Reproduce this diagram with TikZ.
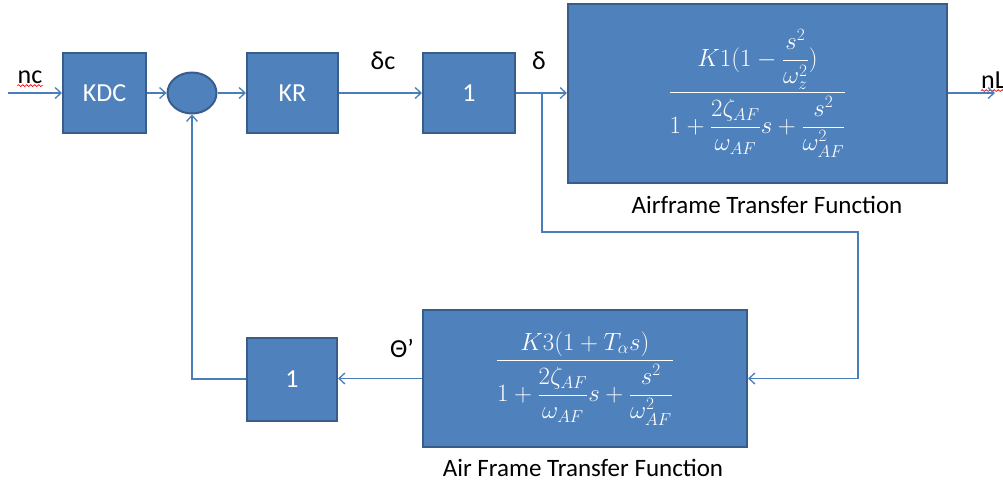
\documentclass[tikz,border=0pt]{standalone}
\usepackage{amsmath}
\usepackage{fontspec}
\setmainfont{Carlito}
\usetikzlibrary{arrows.meta,decorations.pathmorphing,shapes.geometric}
\definecolor{fillb}{HTML}{4F81BD}
\definecolor{edgeb}{HTML}{385D8A}
\definecolor{lineb}{HTML}{4A7EBB}
\begin{document}
\begin{tikzpicture}[x=1pt,y=-1pt,
 blk/.style={draw=edgeb, fill=fillb, line width=2pt, text=white, inner sep=0pt, font=\fontsize{26}{30}\selectfont},
 mathblk/.style={blk, font=\fontsize{25}{30}\selectfont},
 conn/.style={draw=lineb, line width=1.3pt, -{Straight Barb[length=6pt,width=11pt]}},
 lbl/.style={text=black, font=\fontsize{26}{30}\selectfont, inner sep=0pt},
 captxt/.style={text=black, font=\fontsize{25}{29}\selectfont, inner sep=0pt},
 squig/.style={draw=red, line width=0.7pt, decorate, decoration={snake,amplitude=0.9pt,segment length=4pt}}]
\useasboundingbox (0,0) rectangle (1003,483);
% blocks
\node[blk, minimum width=83pt, minimum height=80pt] (kdc) at (104.5,93) {KDC};
\node[draw=edgeb, fill=fillb, line width=2pt, ellipse, inner sep=0pt, minimum width=49pt, minimum height=41pt] (sum) at (192,93) {};
\node[blk, minimum width=91pt, minimum height=80pt] (kr) at (292.5,93) {KR};
\node[blk, minimum width=92pt, minimum height=80pt] (g1) at (469,93) {1};
\node[mathblk, minimum width=379pt, minimum height=179pt] (af) at (757.5,93.5)
  {$\dfrac{K1(1-\dfrac{s^2}{\omega_z^2})}{1+\dfrac{2\zeta_{AF}}{\omega_{AF}}s+\dfrac{s^2}{\omega_{AF}^2}}$};
\node[mathblk, minimum width=324pt, minimum height=137pt] (af2) at (585,378.5)
  {$\dfrac{K3(1+T_\alpha s)}{1+\dfrac{2\zeta_{AF}}{\omega_{AF}}s+\dfrac{s^2}{\omega_{AF}^2}}$};
\node[blk, minimum width=90pt, minimum height=83pt] (g2) at (292,379) {1};
% labels
\node[lbl] (nc) at (30,77) {nc};
\node[lbl] (dc) at (383,61) {δc};
\node[lbl] (d) at (539,61) {δ};
\node[lbl] (th) at (402,348) {Θ’};
\node[lbl, anchor=west] (nl) at (981,80) {nL};
\node[captxt] (cap1) at (767,205) {Airframe Transfer Function};
\node[captxt] (cap2) at (583,468) {Air Frame Transfer Function};
\draw[squig] ([yshift=-2pt]nc.south west) -- ([yshift=-2pt]nc.south east);
\draw[squig] ([yshift=-2pt]nl.south west) -- ([yshift=-2pt]nl.south east);
% coordinates
\coordinate (in) at (8,93);
\coordinate (br) at (542,93);
\coordinate (out) at (995,93);
\coordinate (c2) at (858,232);
% connectors
\draw[conn] (in) -- (kdc.west);
\draw[conn] (kdc.east) -- (sum.west);
\draw[conn] (sum.east) -- (kr.west);
\draw[conn] (kr.east) -- (g1.west);
\draw[conn] (g1.east) -- (af.west |- g1.east);
\draw[conn] (af.east |- out) -- (out);
\draw[conn] (br) |- (c2) |- (af2.east);
\draw[conn] (af2.west) -- (af2.west -| g2.east);
\draw[conn] (g2.west) -| (sum.south);
\end{tikzpicture}
\end{document}
